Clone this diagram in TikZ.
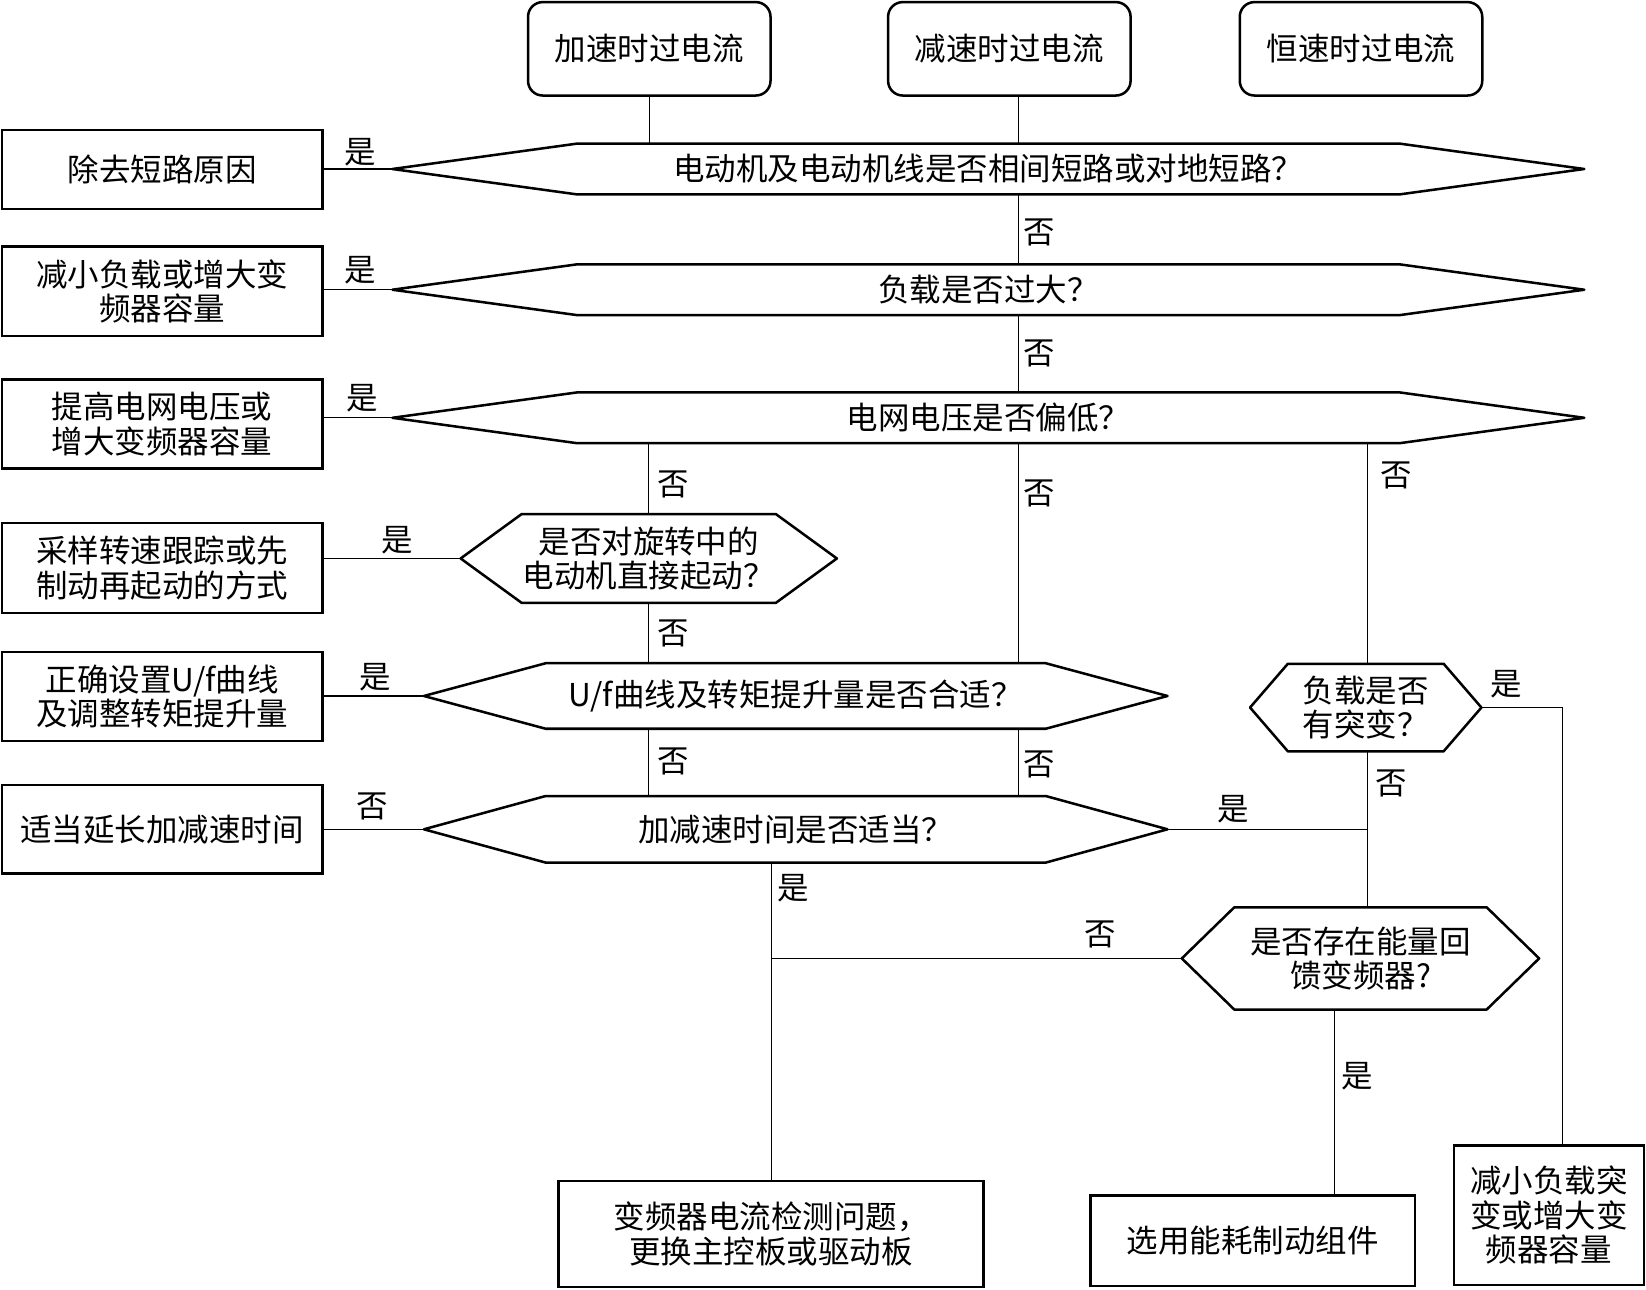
\documentclass[tikz,border=0pt]{standalone}
\usepackage{fontspec}
\newfontfamily\cjk{Noto Sans CJK SC}
\usepackage{tikz}
\usetikzlibrary{positioning}
\tikzset{
  box/.style={draw, line width=2.4pt, inner sep=0pt, align=center},
  start/.style={box, rounded corners=14pt, minimum width=231pt, minimum height=89pt},
  qtext/.style={inner sep=0pt, align=center},
  hexline/.style={line width=2.4pt, line join=round},
  link/.style={line width=1pt},
  yn/.style={inner sep=0pt},
}
% question hexagon: name, centre, width, height, slant, text
\newcommand{\qhex}[6]{%
  \node[qtext, minimum width=#3, minimum height=#4] (#1) at (#2) {#6};
  \draw[hexline] (#1.west) -- ([xshift=#5]#1.north west) -- ([xshift=-#5]#1.north east)
    -- (#1.east) -- ([xshift=-#5]#1.south east) -- ([xshift=#5]#1.south west) -- cycle;
}
\begin{document}
\begin{tikzpicture}[x=1pt, y=-1pt, font=\cjk\fontsize{30}{33}\selectfont]
\useasboundingbox (0,0) rectangle (1568,1228);

% start boxes
\node[start] (t1) at (618.5,46.5) {加速时过电流};
\node[start] (t2) at (961.5,46.5) {减速时过电流};
\node[start] (t3) at (1296.5,46.5) {恒速时过电流};

% questions
\qhex{q1}{941.5,161}{1135pt}{48pt}{176pt}{电动机及电动机线是否相间短路或对地短路？}
\qhex{q2}{941.5,276}{1135pt}{48pt}{176pt}{负载是否过大？}
\qhex{q3}{941.5,398}{1135pt}{48pt}{176pt}{电网电压是否偏低？}
\qhex{q4}{618,532}{358pt}{84pt}{58pt}{是否对旋转中的\\电动机直接起动？}
\qhex{q5}{758,663}{708pt}{62pt}{116pt}{U/f曲线及转矩提升量是否合适？}
\qhex{q6}{758,790}{708pt}{63pt}{116pt}{加减速时间是否适当？}
\qhex{q7}{1301,674}{220pt}{83pt}{36pt}{负载是否\\有突变？}
\qhex{q8}{1296,913}{340pt}{97pt}{50pt}{是否存在能量回\\馈变频器?}

% remedies, left column
\node[box, minimum width=305pt, minimum height=75pt] (a1) at (154.5,161.5) {除去短路原因};
\node[box, minimum width=305pt, minimum height=85pt] (a2) at (154.5,277.5) {减小负载或增大变\\频器容量};
\node[box, minimum width=305pt, minimum height=85pt] (a3) at (154.5,404) {提高电网电压或\\增大变频器容量};
\node[box, minimum width=305pt, minimum height=86pt] (a4) at (154.5,541) {采样转速跟踪或先\\制动再起动的方式};
\node[box, minimum width=305pt, minimum height=85pt] (a5) at (154.5,663.5) {正确设置U/f曲线\\及调整转矩提升量};
\node[box, minimum width=305pt, minimum height=84pt] (a6) at (154.5,790) {适当延长加减速时间};

% remedies, bottom row
\node[box, minimum width=405pt, minimum height=101pt] (b1) at (734.5,1175.5) {变频器电流检测问题，\\更换主控板或驱动板};
\node[box, minimum width=309pt, minimum height=86pt] (b2) at (1193.5,1182) {选用能耗制动组件};
\node[box, minimum width=181pt, minimum height=133pt] (b3) at (1475.5,1157.5) {减小负载突\\变或增大变\\频器容量};

% trunk lines
\coordinate (bx) at (970,0);
\coordinate (cx) at (1303,0);
\coordinate (dx) at (1488,0);
\coordinate (fx) at (1271,0);

\draw[link] (t1.south) -- (t1.south |- q1.north);
\draw[link] (t2.south -| bx) -- (q1.north -| bx);
\draw[link] (q1.south -| bx) -- (q2.north -| bx);
\draw[link] (q2.south -| bx) -- (q3.north -| bx);
\draw[link] (q3.south -| bx) -- (q5.north -| bx);
\draw[link] (q5.south -| bx) -- (q6.north -| bx);

\draw[link] (q3.south -| q4.north) -- (q4.north);
\draw[link] (q4.south) -- (q5.north -| q4.south);
\draw[link] (q5.south -| q4.south) -- (q6.north -| q4.south);

\draw[link] (q3.south -| cx) -- (q7.north -| cx);
\draw[link] (q7.south -| cx) -- (q8.north -| cx);
\draw[link] (q6.east) -- (q6.east -| cx);
\draw[link] (q7.east) -| (dx |- b3.north);

\draw[link] (q6.south -| b1.north) -- (b1.north);
\draw[link] (q8.west) -- (q8.west -| b1.north);
\draw[link] (q8.south -| fx) -- (b2.north -| fx);

% to the left column
\draw[link] (q1.west) -- (q1.west -| a1.east);
\draw[link] (q2.west) -- (q2.west -| a2.east);
\draw[link] (q3.west) -- (q3.west -| a3.east);
\draw[link] (q4.west) -- (q4.west -| a4.east);
\draw[link] (q5.west) -- (q5.west -| a5.east);
\draw[link] (q6.west) -- (q6.west -| a6.east);

% yes / no labels
\node[yn] (y1) at (343,145) {是};
\node[yn] (y2) at (343,257) {是};
\node[yn] (y3) at (345,379) {是};
\node[yn] (y4) at (378,515) {是};
\node[yn] (y5) at (357,645) {是};
\node[yn] (n6) at (355,768) {否};
\node[yn] (n1) at (990,221) {否};
\node[yn] (n2) at (990,337) {否};
\node[yn] (n3) at (990,470) {否};
\node[yn] (n4) at (990,728) {否};
\node[yn] (n5) at (641,461) {否};
\node[yn] (n7) at (641,603) {否};
\node[yn] (n8) at (641,725) {否};
\node[yn] (n9) at (1330,453) {否};
\node[yn] (n10) at (1325,746) {否};
\node[yn] (y6) at (1175,771) {是};
\node[yn] (y7) at (1435,652) {是};
\node[yn] (y8) at (756,846) {是};
\node[yn] (n11) at (1048,890) {否};
\node[yn] (y9) at (1293,1025) {是};
\end{tikzpicture}
\end{document}
